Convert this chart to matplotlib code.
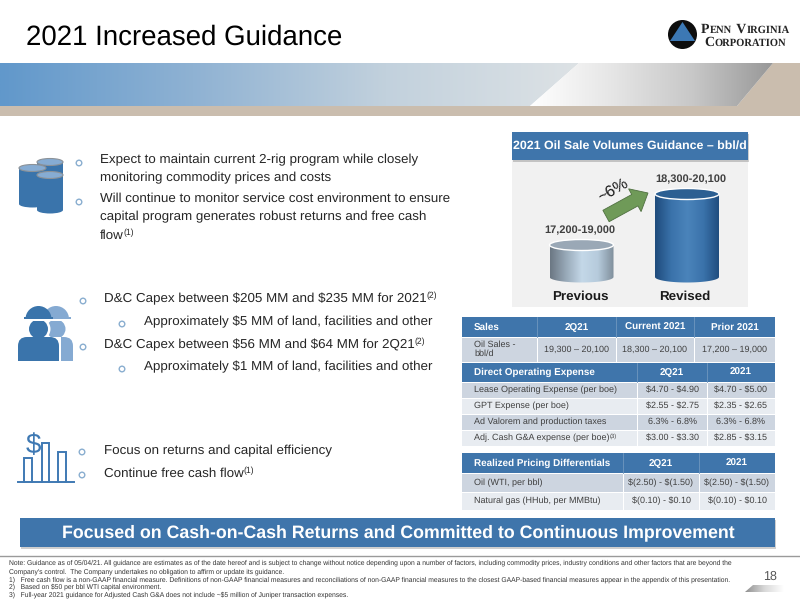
import numpy as np
import matplotlib
matplotlib.use('Agg')
import matplotlib.pyplot as plt
from matplotlib.patches import Rectangle, Ellipse, Polygon, Circle, FancyArrow, PathPatch, FancyBboxPatch, Wedge
from matplotlib.path import Path
from matplotlib.colors import LinearSegmentedColormap

plt.rcParams['font.family'] = ['Liberation Sans', 'DejaVu Sans']
plt.rcParams['text.hinting'] = 'no_hinting'

# -----------------------------------------------------------
#  data
# -----------------------------------------------------------
volume_categories = ['Previous', 'Revised']
volume_values = [18100, 19200]
volume_labels = ['17,200-19,000', '18,300-20,100']

sales_header = ['Sales', '2Q21', 'Current 2021', 'Prior 2021']
sales_row = ['Oil Sales -\nbbl/d', '19,300 – 20,100', '18,300 – 20,100', '17,200 – 19,000']

opex_header = ['Direct Operating Expense', '2Q21', '2021']
opex_rows = [
    ['Lease Operating Expense (per boe)', '$4.70 - $4.90', '$4.70 - $5.00'],
    ['GPT Expense (per boe)', '$2.55 - $2.75', '$2.35 - $2.65'],
    ['Ad Valorem and production taxes', '6.3% - 6.8%', '6.3% - 6.8%'],
    ['Adj. Cash G&A expense (per boe)', '$3.00 - $3.30', '$2.85 - $3.15'],
]

price_header = ['Realized Pricing Differentials', '2Q21', '2021']
price_rows = [
    ['Oil (WTI, per bbl)', '$(2.50) - $(1.50)', '$(2.50) - $(1.50)'],
    ['Natural gas (HHub, per MMBtu)', '$(0.10) - $0.10', '$(0.10) - $0.10'],
]

footnotes = [
    'Note: Guidance as of 05/04/21. All guidance are estimates as of the date hereof and is subject to change without notice depending upon a number of factors, including commodity prices, industry conditions and other factors that are beyond the',
    "Company's control.  The Company undertakes no obligation to affirm or update its guidance.",
    '1)   Free cash flow is a non-GAAP financial measure. Definitions of non-GAAP financial measures and reconciliations of non-GAAP financial measures to the closest GAAP-based financial measures appear in the appendix of this presentation.',
    '2)   Based on $50 per bbl WTI capital environment.',
    '3)   Full-year 2021 guidance for Adjusted Cash G&A does not include ~$5 million of Juniper transaction expenses.',
]

BLUE = '#3f75ab'
DARK = '#262626'
GREY_TXT = '#404040'

fig = plt.figure(figsize=(8, 6), dpi=100, facecolor='white')
ax = fig.add_axes([0, 0, 1, 1])
ax.set_xlim(0, 800)
ax.set_ylim(600, 0)
ax.axis('off')


def gradient(axis, extent, stops, clip=None, zorder=1):
    cmap = LinearSegmentedColormap.from_list('g', stops)
    g = np.linspace(0, 1, 256).reshape(1, -1)
    im = axis.imshow(g, extent=extent, cmap=cmap, aspect='auto', zorder=zorder, interpolation='bilinear')
    if clip is not None:
        im.set_clip_path(clip)
    return im


def text_sup(x, y, s, sup, size, color=DARK):
    # text + raised footnote mark right behind it
    t = ax.text(x, y, s, fontsize=size, color=color, va='center', ha='left')
    bb = t.get_window_extent(fig.canvas.get_renderer())
    ax.text(bb.x1, y - 3, sup, fontsize=size * 0.65, color=color, va='center', ha='left')


def small_caps(x, y, parts):
    # logo lettering, big caps and small caps one after the other
    for word, size in parts:
        t = ax.text(x, y, word, fontsize=size, family='Liberation Serif', fontweight='bold',
                    color='#222222', va='baseline', ha='left', zorder=4)
        x = t.get_window_extent(fig.canvas.get_renderer()).x1 + 0.6


def bar_with_shadow(x0, y0, x1, y1, color=BLUE):
    ax.add_patch(Rectangle((x0 + 1, y0 + 2), x1 - x0, y1 - y0, fc='#00000030', ec='none', zorder=2))
    ax.add_patch(Rectangle((x0, y0), x1 - x0, y1 - y0, fc=color, ec='none', zorder=3))


# title + header band
ax.text(26, 37, '2021 Increased Guidance', fontsize=19.9, color='black', va='center', ha='left')

ax.add_patch(Rectangle((0, 106), 800, 10, fc='#cabdae', ec='none', zorder=1))
ax.add_patch(Polygon([(773, 63), (800, 63), (800, 106), (737, 106)], fc='#cabdae', ec='none', zorder=1))
left_band = Polygon([(0, 63), (579, 63), (530, 106), (0, 106)], transform=ax.transData, fc='none', ec='none')
ax.add_patch(left_band)
gradient(ax, (0, 579, 106, 63), ['#6198cb', '#8fb2d3', '#c2d1dd', '#dde2e5'], clip=left_band)
right_band = Polygon([(579, 63), (773, 63), (737, 106), (530, 106)], transform=ax.transData, fc='none', ec='none')
ax.add_patch(right_band)
gradient(ax, (530, 773, 106, 63), ['#ffffff', '#e6e6e6', '#c8c8c8', '#989898'], clip=right_band)

# logo
ax.add_patch(Ellipse((682.5, 34.5), 29, 29, fc='#0d0d0d', ec='none', zorder=3))
ax.add_patch(Polygon([(682.5, 22), (695, 41), (670, 41)], fc='#3c78b4', ec='none', zorder=4))
small_caps(701, 33, [('P', 10), ('ENN', 7.6), (' V', 10), ('IRGINIA', 7.6)])
small_caps(704, 46, [('C', 10), ('ORPORATION', 7.6)])

# bullets text
BODY = 9.62


def bullet(x, y):
    ax.add_patch(Circle((x, y), 2.8, fc='white', ec='#8aaed0', lw=1.0, zorder=3))


bullet(79, 163)
ax.text(100, 160, 'Expect to maintain current 2-rig program while closely', fontsize=BODY, color=DARK, va='center')
ax.text(100, 178, 'monitoring commodity prices and costs', fontsize=BODY, color=DARK, va='center')
bullet(79, 202)
ax.text(100, 199, 'Will continue to monitor service cost environment to ensure', fontsize=BODY, color=DARK, va='center')
ax.text(100, 217, 'capital program generates robust returns and free cash', fontsize=BODY, color=DARK, va='center')
text_sup(100, 236, 'flow', '(1)', BODY)

bullet(83, 301)
text_sup(104, 299, 'D&C Capex between \\$205 MM and \\$235 MM for 2021', '(2)', BODY)
bullet(122, 324)
ax.text(144, 322, 'Approximately \\$5 MM of land, facilities and other', fontsize=BODY, color=DARK, va='center')
bullet(83, 347)
text_sup(104, 345, 'D&C Capex between \\$56 MM and \\$64 MM for 2Q21', '(2)', BODY)
bullet(122, 369)
ax.text(144, 367, 'Approximately \\$1 MM of land, facilities and other', fontsize=BODY, color=DARK, va='center')

bullet(82, 452)
ax.text(104, 451, 'Focus on returns and capital efficiency', fontsize=BODY, color=DARK, va='center')
bullet(82, 475)
text_sup(104, 474, 'Continue free cash flow', '(1)', BODY)


# icons
def barrel(x0, x1, y0, y1):
    ax.add_patch(Rectangle((x0, y0), x1 - x0, y1 - y0, fc='#3a74ab', ec='none', zorder=4))
    ax.add_patch(Ellipse(((x0 + x1) / 2, y1), x1 - x0, 7, fc='#3a74ab', ec='none', zorder=4))
    ax.add_patch(Ellipse(((x0 + x1) / 2, y0), x1 - x0, 7, fc='#86acd3', ec='#8c9298', lw=0.8, zorder=5))


barrel(37, 63, 162, 194)
barrel(19, 46, 168, 204)
barrel(37, 63, 175, 210)


def worker(cx, half_body, color, z):
    ax.add_patch(Ellipse((cx, 329), 19, 19, fc=color, ec='none', zorder=z))
    ax.add_patch(Rectangle((cx - 14, 319), 28, 2, fc='white', ec='none', zorder=z + 0.1))
    ax.add_patch(Wedge((cx, 319), 13, 180, 360, fc=color, ec='none', zorder=z + 0.2))
    ax.add_patch(Rectangle((cx - 14.5, 316.5), 29, 2.5, fc=color, ec='none', zorder=z + 0.2))
    ax.add_patch(FancyBboxPatch((cx - half_body, 337), 2 * half_body, 24, boxstyle='round,pad=0,rounding_size=9',
                                fc=color, ec='none', zorder=z))
    ax.add_patch(Rectangle((cx - half_body, 350), 2 * half_body, 11, fc=color, ec='none', zorder=z))


worker(56, 17, '#85aad2', 3)
# white halo between the two figures
ax.add_patch(Ellipse((39, 329), 23, 23, fc='white', ec='none', zorder=4))
ax.add_patch(Rectangle((16, 337), 45, 25, fc='white', ec='none', zorder=4))
worker(38.5, 20.5, '#3a74ab', 5)

for bx0, bx1, btop in [(24, 32, 458), (42, 49, 443), (58, 66, 452)]:
    ax.plot([bx0, bx0, bx1, bx1], [482, btop, btop, 482], color='#3f79b3', lw=1.4, zorder=3, solid_joinstyle='miter')
ax.plot([18, 74], [482, 482], color='#3f79b3', lw=1.4, zorder=3)
ax.text(33, 446, '\\$', fontsize=20, color='#3f79b3', va='center', ha='center', zorder=3)

# volume chart panel
ax.add_patch(Rectangle((512, 160), 236, 147, fc='#f1f1f1', ec='none', zorder=1))
bar_with_shadow(512, 132, 748, 160)
ax.text(630, 146, '2021 Oil Sale Volumes Guidance – bbl/d', fontsize=8.9, fontweight='bold', color='white',
        va='center', ha='center', zorder=6)

# cylinders, own axes so values go through a real scale
PX_X = 105.5
PX_Y = 51 / (volume_values[1] - volume_values[0])
base_val = volume_values[0] - 32 / PX_Y
ax_x0, ax_x1, ax_ytop, ax_ybot = 540, 730, 170, 287
cyl = fig.add_axes([ax_x0 / 800, 1 - ax_ybot / 600, (ax_x1 - ax_x0) / 800, (ax_ybot - ax_ytop) / 600])
cyl.axis('off')
cyl.patch.set_alpha(0)
half_w = 32 / PX_X
ell_h = 11 / PX_Y
styles = [
    (['#6b7783', '#98a9b8', '#c4d8e8', '#b6cbdc', '#7f8e9b'], '#9aa8b6'),
    (['#1f4b7c', '#3a72aa', '#4a84bb', '#3a72aa', '#1f4b7c'], '#2c5f92'),
]
label_shift = [-1.5, 3.5]
for i, v in enumerate(volume_values):
    ts = np.linspace(np.pi, 2 * np.pi, 40)
    low = [(i + half_w * np.cos(t), base_val + ell_h / 2 * np.sin(t)) for t in ts]
    pts = low + [(i + half_w, v), (i - half_w, v)] + [low[0]]
    shape = PathPatch(Path(pts), fc='none', ec='none', transform=cyl.transData)
    cyl.add_patch(shape)
    gradient(cyl, (i - half_w, i + half_w, base_val - ell_h, v), styles[i][0], clip=shape, zorder=2)
    cyl.add_patch(Ellipse((i, v), 2 * half_w, ell_h, fc=styles[i][1], ec='white', lw=1.0, zorder=3))
    cyl.text(i + label_shift[i] / PX_X, v + 15 / PX_Y, volume_labels[i], fontsize=7.9, fontweight='bold',
             color=GREY_TXT, ha='center', va='center', zorder=4)
cyl.set_xlim((ax_x0 - 581.5) / PX_X, (ax_x1 - 581.5) / PX_X)
cyl.set_ylim(base_val - 10 / PX_Y, base_val + (277 - ax_ytop) / PX_Y)
for lab, lx in zip(volume_categories, [580, 685]):
    ax.text(lx, 296.5, lab, fontsize=9.6, fontweight='bold', color='#1a1a1a', ha='center', va='center', zorder=6)
cyl.set_zorder(2)

ax.add_patch(FancyArrow(606, 216, 42, -23, width=13, head_width=26, head_length=15, length_includes_head=True,
                        fc='#6f9a58', ec='#4f7040', lw=0.6, zorder=5))
ax.text(613, 190, '~6%', fontsize=11.5, color='#1a1a1a', rotation=30, ha='center', va='center', zorder=6)


# tables
def cell(x0, y0, x1, y1, color):
    ax.add_patch(Rectangle((x0, y0), x1 - x0, y1 - y0, fc=color, ec='none', zorder=2))


def table_header(cols, y0, y1, labels):
    ax.add_patch(Rectangle((cols[0], y0), cols[-1] - cols[0], y1 - y0, fc=BLUE, ec='none', zorder=2))
    for k, lab in enumerate(labels):
        if k == 0:
            ax.text(cols[0] + 12, (y0 + y1) / 2, lab, fontsize=7.1, fontweight='bold', color='white', va='center', zorder=4)
        else:
            ax.text((cols[k] + cols[k + 1]) / 2, (y0 + y1) / 2, lab, fontsize=7.1, fontweight='bold', color='white',
                    ha='center', va='center', zorder=4)
            ax.plot([cols[k], cols[k]], [y0, y1], color='#6f97bf', lw=0.6, zorder=3)


def table_rows(cols, ys, rows, fills, size=6.5):
    for r, row in enumerate(rows):
        for k, val in enumerate(row):
            cell(cols[k] + (0.5 if k else 0), ys[r] + 0.5, cols[k + 1] - (0.5 if k < len(row) - 1 else 0),
                 ys[r + 1] - 0.5, fills[r % 2])
            if k == 0:
                ax.text(cols[0] + 12, (ys[r] + ys[r + 1]) / 2, val, fontsize=size, color=GREY_TXT, va='center',
                        zorder=4, linespacing=1.1)
            else:
                ax.text((cols[k] + cols[k + 1]) / 2, (ys[r] + ys[r + 1]) / 2, val, fontsize=size, color=GREY_TXT,
                        ha='center', va='center', zorder=4)


FILLS = ['#cdd5e0', '#e8ecf1']
safe = lambda r: [c.replace('$', '\\$') for c in r]

cols1 = [462, 537, 616, 694, 775]
table_header(cols1, 317, 337, sales_header)
table_rows(cols1, [337, 362], [sales_row], ['#cdd5e0'])

cols2 = [462, 637, 707, 775]
table_header(cols2, 363, 382, opex_header)
ys2 = [382.5, 398, 414, 430, 446]
table_rows(cols2, ys2, [safe(r) for r in opex_rows], FILLS)
t = ax.text(474, 438, safe(opex_rows[3])[0], fontsize=6.5, alpha=0)
bb = t.get_window_extent(fig.canvas.get_renderer())
t.remove()
ax.text(bb.x1 + 0.5, 436, '(3)', fontsize=4.2, color=GREY_TXT, va='center', zorder=4)

cols3 = [462, 623, 699, 775]
table_header(cols3, 453, 473, price_header)
table_rows(cols3, [473, 492, 510], [safe(r) for r in price_rows], FILLS)

# bottom banner
bar_with_shadow(20, 518, 775, 547)
ax.text(398, 533, 'Focused on Cash-on-Cash Returns and Committed to Continuous Improvement',
        fontsize=12.75, fontweight='bold', color='white', ha='center', va='center', zorder=6)

# footer
ax.plot([0, 800], [556, 556], color='#9a9a9a', lw=1.0, zorder=1)
for line, fy in zip(footnotes, [562.5, 571.5, 579.5, 587, 595]):
    ax.text(9, fy, line.replace('$', '\\$'), fontsize=4.88, color='#333333', va='center', zorder=3)
ax.text(770, 577, '18', fontsize=9, color='#555555', ha='center', va='center', zorder=3)
fade = Polygon([(753, 585), (784, 585), (784, 592), (745, 592)], transform=ax.transData, fc='none', ec='none')
ax.add_patch(fade)
gradient(ax, (745, 784, 592, 585), ['#8f8f8f', '#d8d8d8', '#ffffff'], clip=fade)

ax.set_xlim(0, 800)
ax.set_ylim(600, 0)
fig.savefig('out.png', dpi=100)
